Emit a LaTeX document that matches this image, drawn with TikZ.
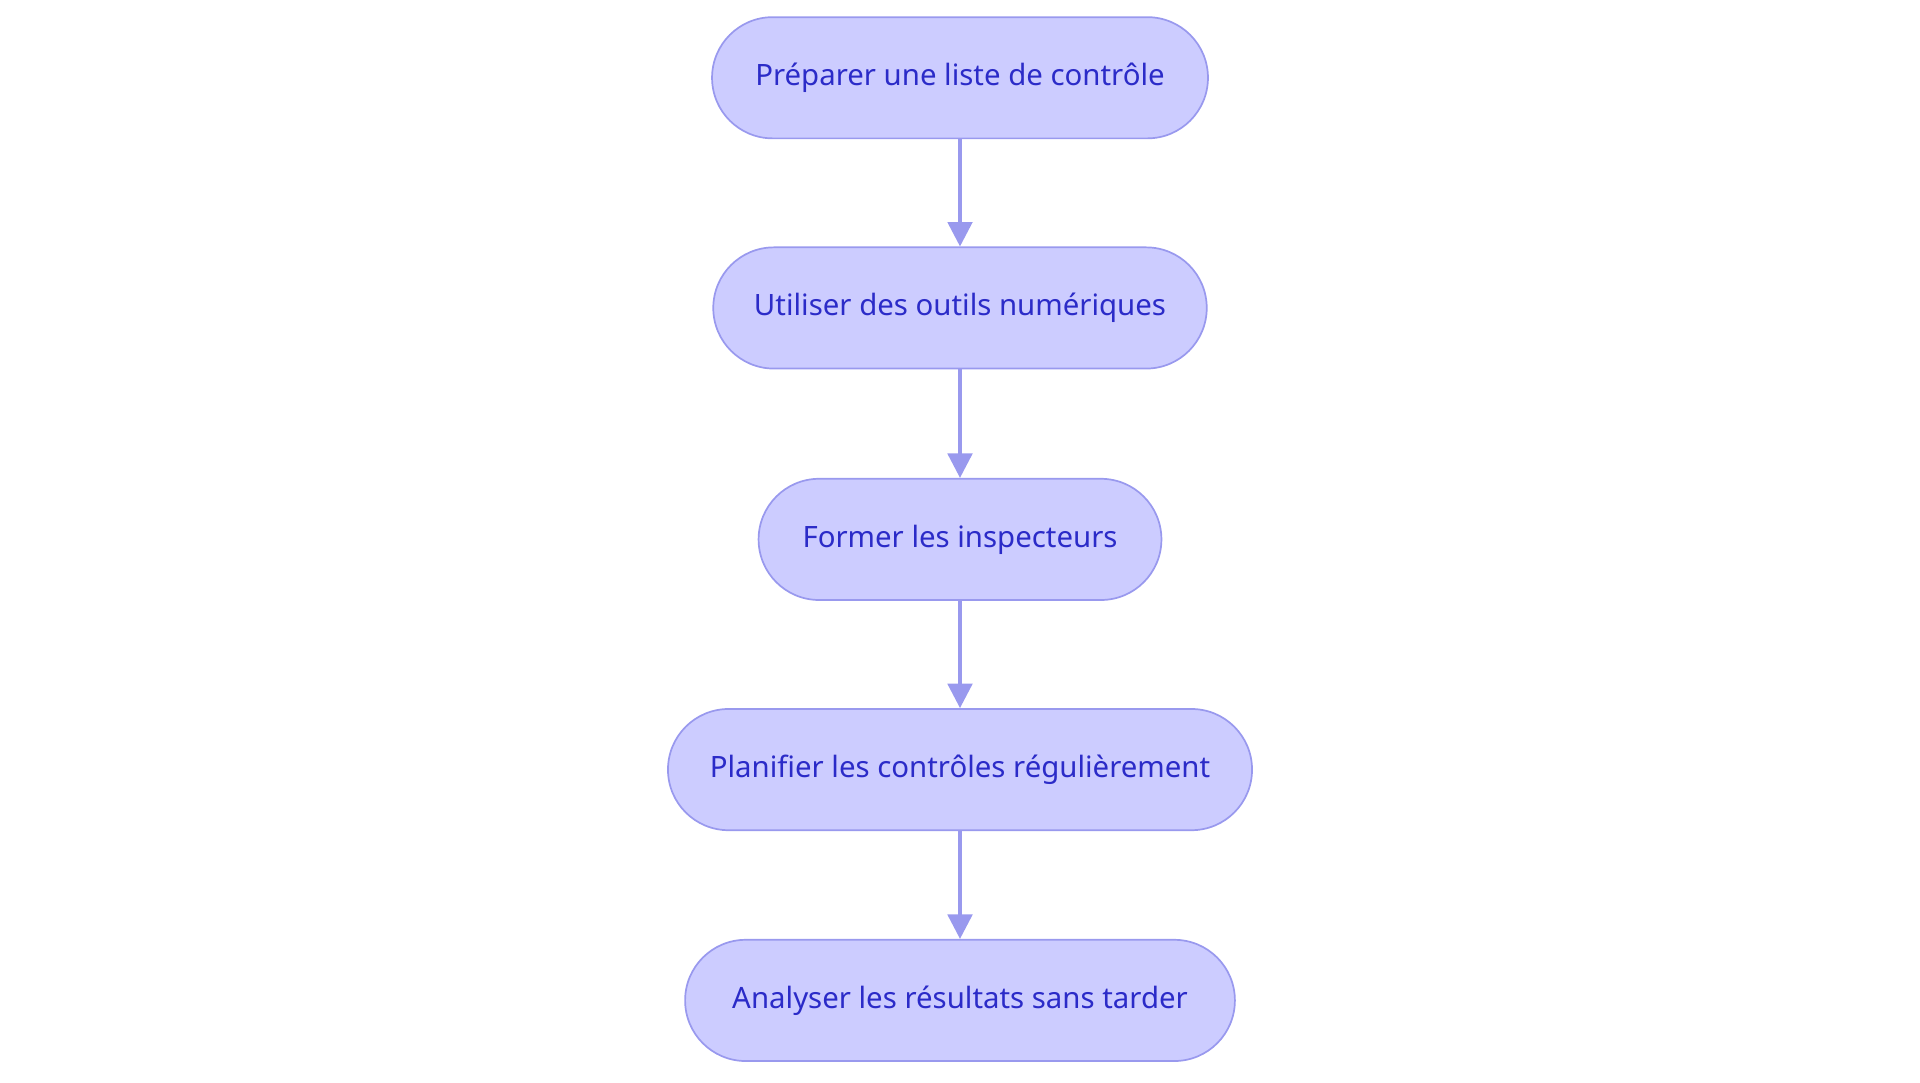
\documentclass[tikz,border=0pt]{standalone}
\usepackage{fontspec}
\setmainfont{Noto Sans}
\usetikzlibrary{arrows.meta}
\definecolor{nfill}{HTML}{CCCCFF}
\definecolor{nline}{HTML}{9999EE}
\definecolor{ntext}{HTML}{2B2BC8}
\begin{document}
\begin{tikzpicture}[x=0.5pt,y=-0.5pt,
  box/.style={draw=nline,line width=0.7pt,fill=nfill,rounded corners=24.75pt,minimum height=49.5pt,inner sep=0pt,text=ntext,font=\fontsize{12}{14}\selectfont},
  arr/.style={draw=nline,line width=1.5pt,-{Triangle[length=10pt,width=10pt]}}]
\useasboundingbox (0,0) rectangle (1568,884);
\node[box,minimum width=202.5pt] (a) at (784,63.5) {Préparer une liste de contrôle};
\node[box,minimum width=201.5pt] (b) at (784,251.5) {Utiliser des outils numériques};
\node[box,minimum width=164.5pt] (c) at (784,440.5) {Former les inspecteurs};
\node[box,minimum width=238.5pt] (d) at (784,628.5) {Planifier les contrôles régulièrement};
\node[box,minimum width=224.5pt] (e) at (784,817) {Analyser les résultats sans tarder};
\draw[arr] (a) -- (b);
\draw[arr] (b) -- (c);
\draw[arr] (c) -- (d);
\draw[arr] (d) -- (e);
\end{tikzpicture}
\end{document}
